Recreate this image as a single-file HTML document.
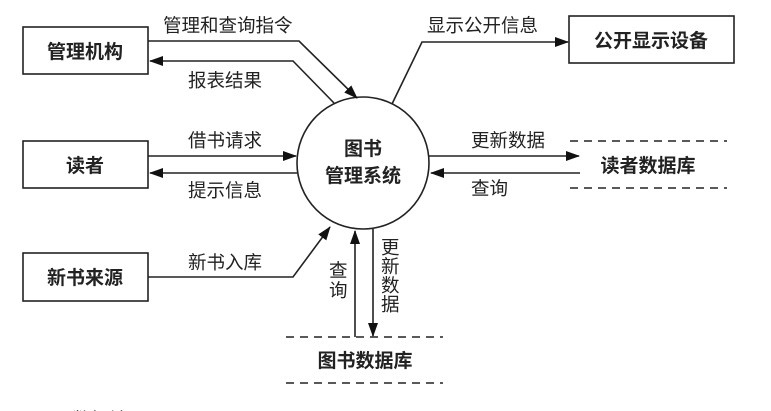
<!DOCTYPE html>
<html><head><meta charset="utf-8"><style>
html,body{margin:0;padding:0;background:#fff;width:771px;height:411px;overflow:hidden}
svg text{font-family:"Liberation Sans","Noto Sans CJK SC",sans-serif;fill:#222}
.b{font-weight:bold;font-size:19px}
.n{font-size:18.5px}
</style></head><body>
<svg width="771" height="411" viewBox="0 0 771 411" xmlns="http://www.w3.org/2000/svg">
<defs><marker id="a" markerWidth="14" markerHeight="10" refX="13" refY="5" orient="auto" markerUnits="userSpaceOnUse"><path d="M0,0 L14,5 L0,10 z" fill="#111"/></marker></defs>
<g fill="none" stroke="#222" stroke-width="1.6">
<rect x="23" y="27" width="125" height="47"/>
<rect x="23" y="141" width="125" height="47"/>
<rect x="23" y="253" width="125" height="48"/>
<rect x="569" y="16" width="165" height="47"/>
<circle cx="363" cy="163" r="66"/>
<polyline points="148,41 299,41 357,98" marker-end="url(#a)"/>
<polyline points="334,103 293,61 150,61" marker-end="url(#a)"/>
<line x1="148" y1="156" x2="296" y2="156" marker-end="url(#a)"/>
<line x1="297" y1="173" x2="150" y2="173" marker-end="url(#a)"/>
<polyline points="148,277 293,277 330,227" marker-end="url(#a)"/>
<polyline points="392,104 422,42 568,42" marker-end="url(#a)"/>
<line x1="429" y1="156" x2="579" y2="156" marker-end="url(#a)"/>
<line x1="580" y1="173" x2="431" y2="173" marker-end="url(#a)"/>
<line x1="355" y1="337" x2="355" y2="231" marker-end="url(#a)"/>
<line x1="373" y1="229" x2="373" y2="336" marker-end="url(#a)"/>
<g stroke-dasharray="8,6">
<line x1="570" y1="141" x2="727" y2="141"/>
<line x1="570" y1="188" x2="727" y2="188"/>
<line x1="286" y1="337" x2="443" y2="337"/>
<line x1="286" y1="383" x2="443" y2="383"/>
</g>
</g>
<text class="b" x="85" y="58" text-anchor="middle">管理机构</text>
<text class="b" x="85" y="172" text-anchor="middle">读者</text>
<text class="b" x="85" y="284" text-anchor="middle">新书来源</text>
<text class="b" x="651" y="47" text-anchor="middle">公开显示设备</text>
<text class="b" x="363" y="155" text-anchor="middle">图书</text>
<text class="b" x="363" y="182" text-anchor="middle">管理系统</text>
<text class="b" x="648" y="172" text-anchor="middle">读者数据库</text>
<text class="b" x="365" y="367" text-anchor="middle">图书数据库</text>
<text class="n" x="163" y="32">管理和查询指令</text>
<text class="n" x="188" y="87">报表结果</text>
<text class="n" x="188" y="147">借书请求</text>
<text class="n" x="188" y="197">提示信息</text>
<text class="n" x="188" y="269">新书入库</text>
<text class="n" x="427" y="32">显示公开信息</text>
<text class="n" x="471" y="147">更新数据</text>
<text class="n" x="471" y="195">查询</text>
<text class="n" x="329" y="277">查</text>
<text class="n" x="329" y="297">询</text>
<text class="n" x="381" y="254">更</text>
<text class="n" x="381" y="273">新</text>
<text class="n" x="381" y="292">数</text>
<text class="n" x="381" y="311">据</text>
<text x="15" y="426" style="font-size:19px;fill:#555">图 1-1   数据流图(1)</text>
</svg>
</body></html>
